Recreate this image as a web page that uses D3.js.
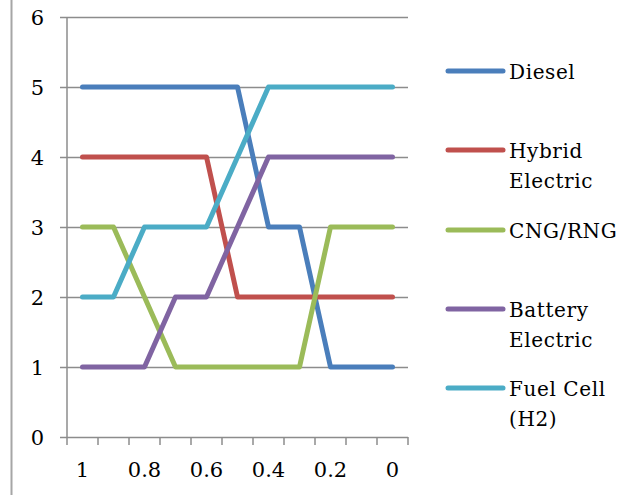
<!DOCTYPE html>
<meta charset="utf-8">
<script src="https://d3js.org/d3.v7.min.js"></script>
<style>
  body { margin: 0; background: #fff; }
  text { font-family: "DejaVu Serif", serif; fill: #000; }
</style>
<div id="my_dataviz"></div>
<script>

  // categories along the x axis (Excel category axis, reversed 1 -> 0)
  var categories = ["1", "0.9", "0.8", "0.7", "0.6", "0.5", "0.4", "0.3", "0.2", "0.1", "0"];
  var xLabels = ["1", "0.8", "0.6", "0.4", "0.2", "0"];
  var yTicks = [0, 1, 2, 3, 4, 5, 6];

  // series values (rank)
  var diesel  = [5, 5, 5, 5, 5, 5, 3, 3, 1, 1, 1];
  var hybrid  = [4, 4, 4, 4, 4, 2, 2, 2, 2, 2, 2];
  var cng     = [3, 3, 2, 1, 1, 1, 1, 1, 3, 3, 3];
  var battery = [1, 1, 1, 2, 2, 3, 4, 4, 4, 4, 4];
  var fuel    = [2, 2, 3, 3, 3, 4, 5, 5, 5, 5, 5];

  var seriesNames = ["Diesel", "Hybrid Electric", "CNG/RNG", "Battery Electric", "Fuel Cell (H2)"];
  var legendLines = [["Diesel"], ["Hybrid", "Electric"], ["CNG/RNG"], ["Battery", "Electric"], ["Fuel Cell", "(H2)"]];
  var colors = ["#4a7ebb", "#c0504d", "#9bbb59", "#8064a2", "#4bacc6"];

  var series = [
    {name: seriesNames[0], values: diesel},
    {name: seriesNames[1], values: hybrid},
    {name: seriesNames[2], values: cng},
    {name: seriesNames[3], values: battery},
    {name: seriesNames[4], values: fuel}
  ];

  var margin = {top: 17, left: 67},
    width = 341,
    height = 420;

  var root = d3.select("#my_dataviz")
    .append("svg")
      .attr("width", 631)
      .attr("height", 495);

  // frame edge on the left
  root.append("line")
    .attr("x1", 11.5).attr("x2", 11.5)
    .attr("y1", 0).attr("y2", 495)
    .style("stroke", "#a6a6a6")
    .style("stroke-width", 2);

  var svg = root.append("g")
    .attr("transform", "translate(" + margin.left + "," + margin.top + ")");

  var x = d3.scaleBand()
    .domain(categories)
    .range([0, width]);

  var y = d3.scaleLinear()
    .domain([0, 6])
    .range([height, 0]);

  // horizontal gridlines + y ticks
  var yAxis = svg.append("g")
    .call(d3.axisLeft(y).tickValues(yTicks).tickSize(-width).tickPadding(23).tickFormat(d3.format("d")));
  yAxis.select(".domain").remove();
  yAxis.selectAll(".tick line")
    .attr("x1", -7)
    .style("stroke", "#8c8c8c")
    .style("stroke-width", 1.5);
  yAxis.selectAll(".tick text")
    .style("font-size", "21px")
    .style("font-family", "'DejaVu Serif', serif")
    .style("fill", "#000")
    .attr("dy", "0.36em");

  // y axis line
  svg.append("line")
    .attr("x1", 0).attr("x2", 0)
    .attr("y1", 0).attr("y2", height)
    .style("stroke", "#8c8c8c")
    .style("stroke-width", 1.5);

  // x axis: ticks between categories
  var xAxis = svg.append("g")
    .attr("transform", "translate(0," + height + ")");
  xAxis.selectAll("line.tick")
    .data(categories.concat(["end"]))
    .enter()
    .append("line")
      .attr("x1", function(d, i) { return i * x.bandwidth(); })
      .attr("x2", function(d, i) { return i * x.bandwidth(); })
      .attr("y1", 0)
      .attr("y2", 8)
      .style("stroke", "#8c8c8c")
      .style("stroke-width", 1.5);
  xAxis.selectAll("text")
    .data(xLabels)
    .enter()
    .append("text")
      .attr("x", function(d) { return x(d) + x.bandwidth() / 2; })
      .attr("y", 40)
      .style("text-anchor", "middle")
      .style("font-size", "21px")
      .text(function(d) { return d; });

  // lines
  var line = d3.line()
    .x(function(d, i) { return x(categories[i]) + x.bandwidth() / 2; })
    .y(function(d) { return y(d); });

  svg.selectAll("path.series")
    .data(series)
    .enter()
    .append("path")
      .attr("class", "series")
      .attr("d", function(d) { return line(d.values); })
      .style("fill", "none")
      .style("stroke", function(d, i) { return colors[i]; })
      .style("stroke-width", 5)
      .style("stroke-linejoin", "round")
      .style("stroke-linecap", "round");

  // legend
  var legendY = [71, 150, 230, 309, 388];
  var legend = root.selectAll("g.legend")
    .data(series)
    .enter()
    .append("g")
      .attr("class", "legend")
      .attr("transform", function(d, i) { return "translate(448," + legendY[i] + ")"; });

  legend.append("line")
    .attr("x1", 0).attr("x2", 55)
    .attr("y1", 0).attr("y2", 0)
    .style("stroke", function(d, i) { return colors[i]; })
    .style("stroke-width", 5)
    .style("stroke-linecap", "round");

  legend.each(function(d, i) {
    var g = d3.select(this);
    legendLines[i].forEach(function(t, j) {
      g.append("text")
        .attr("x", 61)
        .attr("y", 8 + j * 30)
        .style("font-size", "20px")
        .style("letter-spacing", "0.6px")
        .text(t);
    });
  });

</script>
